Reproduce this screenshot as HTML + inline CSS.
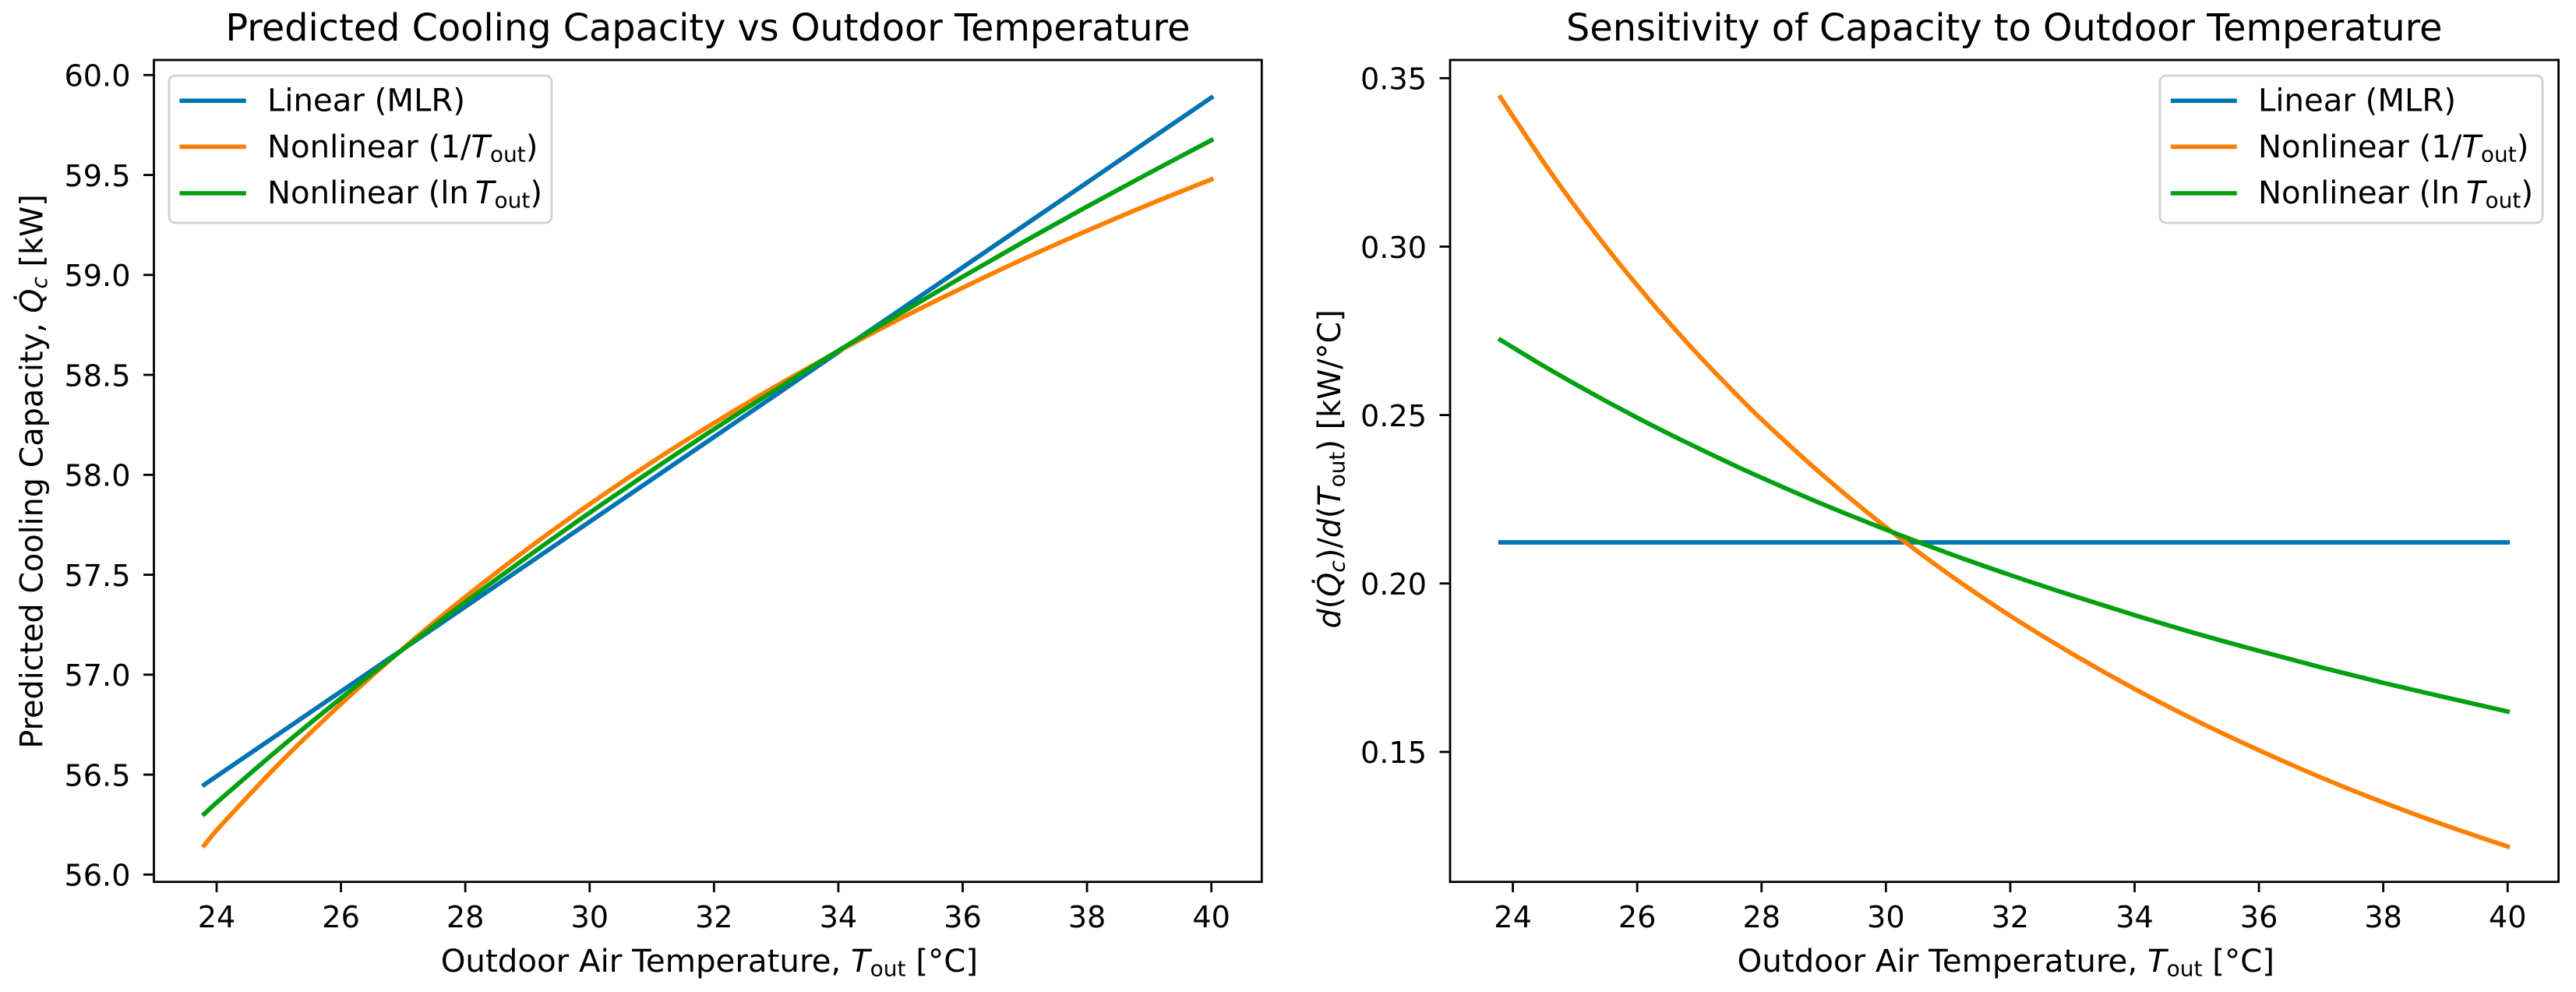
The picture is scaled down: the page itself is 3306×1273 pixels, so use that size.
<!DOCTYPE html>
<html lang="en">
<head>
<meta charset="utf-8">
<title>Predicted Cooling Capacity and Sensitivity</title>
<style>
html,body{margin:0;padding:0;background:#fff;width:3306px;height:1273px;overflow:hidden}
svg{display:block}
text{font-family:"DejaVu Sans","Liberation Sans",sans-serif;fill:#000}
.title{font-size:47.75px;text-anchor:middle}
.axis-label{font-size:40.3px;text-anchor:middle}
.y-label{font-size:39.7px;text-anchor:start}
.tick{font-size:38.2px}
.legend-text{font-size:40.2px}
.i{font-style:italic}
</style>
</head>
<body>
<svg id="chart" xmlns="http://www.w3.org/2000/svg" width="3306" height="1273" viewBox="0 0 3306 1273">
  <rect x="0" y="0" width="3306" height="1273" fill="#fff"/>

  <g id="left-panel">
    <g id="left-marks"></g>
    <g id="left-ticks"></g>
    <rect x="197.5" y="77" width="1421.8" height="1054.7" fill="none" stroke="#000" stroke-width="2.8"/>
    <text class="title" x="908.4" y="52">Predicted Cooling Capacity vs Outdoor Temperature</text>
    <text class="axis-label" x="910.4" y="1247">Outdoor Air Temperature, <tspan class="i">T</tspan><tspan font-size="28" dy="5.7">out</tspan><tspan dy="-5.7"> [°C]</tspan></text>
    <text class="y-label" transform="translate(54.3,960.6) rotate(-90)" x="0" y="0">Predicted Cooling Capacity, <tspan class="i">Q̇</tspan><tspan font-size="28" dy="5.7" class="i">c</tspan><tspan dy="-5.7"> [kW]</tspan></text>
    <g>
      <rect x="217" y="97" width="491" height="189" rx="8" ry="8" fill="#fff" fill-opacity="0.8" stroke="#ccc" stroke-opacity="0.9" stroke-width="2.8"/>
      <line x1="233.2" y1="129.3" x2="313" y2="129.3" stroke="#0173b2" stroke-width="5.6" stroke-linecap="square"/>
      <text class="legend-text" x="343" y="142.5">Linear (MLR)</text>
      <line x1="233.2" y1="188.3" x2="313" y2="188.3" stroke="#ff7f00" stroke-width="5.6" stroke-linecap="square"/>
      <text class="legend-text" x="343" y="201.8">Nonlinear (1/<tspan class="i">T</tspan><tspan font-size="28" dy="5.7">out</tspan><tspan dy="-5.7">)</tspan></text>
      <line x1="233.2" y1="248" x2="313" y2="248" stroke="#02a010" stroke-width="5.6" stroke-linecap="square"/>
      <text class="legend-text" x="343" y="261">Nonlinear (ln&#8201;<tspan class="i">T</tspan><tspan font-size="28" dy="5.7">out</tspan><tspan dy="-5.7">)</tspan></text>
    </g>
  </g>

  <g id="right-panel">
    <g id="right-marks"></g>
    <g id="right-ticks"></g>
    <rect x="1861" y="77" width="1422.6" height="1054.7" fill="none" stroke="#000" stroke-width="2.8"/>
    <text class="title" x="2572.3" y="52">Sensitivity of Capacity to Outdoor Temperature</text>
    <text class="axis-label" x="2574.3" y="1247">Outdoor Air Temperature, <tspan class="i">T</tspan><tspan font-size="28" dy="5.7">out</tspan><tspan dy="-5.7"> [°C]</tspan></text>
    <text class="y-label" transform="translate(1720,806.5) rotate(-90)" x="0" y="0"><tspan class="i">d</tspan>(<tspan class="i">Q̇</tspan><tspan font-size="28" dy="5.7" class="i">c</tspan><tspan dy="-5.7">)/</tspan><tspan class="i">d</tspan>(<tspan class="i">T</tspan><tspan font-size="28" dy="5.7">out</tspan><tspan dy="-5.7">) [kW/°C]</tspan></text>
    <g>
      <rect x="2772" y="97" width="491" height="189" rx="8" ry="8" fill="#fff" fill-opacity="0.8" stroke="#ccc" stroke-opacity="0.9" stroke-width="2.8"/>
      <line x1="2788.7" y1="129.3" x2="2868" y2="129.3" stroke="#0173b2" stroke-width="5.6" stroke-linecap="square"/>
      <text class="legend-text" x="2898" y="142.5">Linear (MLR)</text>
      <line x1="2788.7" y1="188.3" x2="2868" y2="188.3" stroke="#ff7f00" stroke-width="5.6" stroke-linecap="square"/>
      <text class="legend-text" x="2898" y="201.8">Nonlinear (1/<tspan class="i">T</tspan><tspan font-size="28" dy="5.7">out</tspan><tspan dy="-5.7">)</tspan></text>
      <line x1="2788.7" y1="248" x2="2868" y2="248" stroke="#02a010" stroke-width="5.6" stroke-linecap="square"/>
      <text class="legend-text" x="2898" y="261">Nonlinear (ln&#8201;<tspan class="i">T</tspan><tspan font-size="28" dy="5.7">out</tspan><tspan dy="-5.7">)</tspan></text>
    </g>
  </g>
</svg>

<script>
// Values
const capacityTemps = [23.8,24,25,26,27,28,29,30,31,32,33,34,35,36,37,38,39,40];
const capacityLinear = [56.449,56.492,56.704,56.916,57.128,57.340,57.553,57.765,57.977,58.189,58.401,58.614,58.826,59.038,59.250,59.462,59.675,59.887];
const capacityInverse = [56.146,56.222,56.553,56.853,57.131,57.389,57.629,57.853,58.063,58.259,58.444,58.618,58.782,58.936,59.083,59.221,59.353,59.478];
const capacityLog = [56.303,56.360,56.628,56.882,57.127,57.363,57.590,57.810,58.022,58.228,58.427,58.621,58.808,58.991,59.169,59.342,59.510,59.674];

const sensitivityTemps = [23.8,24.5,25,25.5,26,26.5,27,27.5,28,29,30,31,32,33,34,35,36,37,38,39,40];
const sensitivityLinear = [0.2122,0.2122,0.2122,0.2122,0.2122,0.2122,0.2122,0.2122,0.2122,0.2122,0.2122,0.2122,0.2122,0.2122,0.2122,0.2122,0.2122,0.2122,0.2122,0.2122,0.2122];
const sensitivityInverse = [0.3443,0.3249,0.3120,0.2999,0.2885,0.2777,0.2675,0.2579,0.2487,0.2319,0.2167,0.2029,0.1904,0.1791,0.1687,0.1592,0.1505,0.1424,0.1350,0.1282,0.1219];
const sensitivityLog = [0.2723,0.2645,0.2592,0.2541,0.2492,0.2445,0.2400,0.2356,0.2314,0.2234,0.2160,0.2090,0.2025,0.1964,0.1906,0.1851,0.1800,0.1751,0.1705,0.1662,0.1620];

const xTickLabels = ["24","26","28","30","32","34","36","38","40"];
const capacityTickLabels = ["56.0","56.5","57.0","57.5","58.0","58.5","59.0","59.5","60.0"];
const sensitivityTickLabels = ["0.15","0.20","0.25","0.30","0.35"];

const SVG_NS = "http://www.w3.org/2000/svg";
const xLeft = t => 278 + (t - 24) * 79.79;
const xRight = t => 1941.6 + (t - 24) * 79.79;
const yCapacity = v => 96.3 + (60 - v) * 256.5;
const ySensitivity = v => 100.3 + (0.35 - v) * 4323;

function smoothPath(xs, ys, xScale, yScale) {
  const px = xs.map(xScale);
  const py = ys.map(yScale);
  const n = px.length;
  const m = px.map((_, i) => {
    const a = Math.max(0, i - 1);
    const b = Math.min(n - 1, i + 1);
    return (py[b] - py[a]) / (px[b] - px[a]);
  });
  let d = "M" + px[0].toFixed(2) + " " + py[0].toFixed(2);
  for (let i = 0; i < n - 1; i++) {
    const h = (px[i + 1] - px[i]) / 3;
    d += "C" + (px[i] + h).toFixed(2) + " " + (py[i] + m[i] * h).toFixed(2) + " " +
         (px[i + 1] - h).toFixed(2) + " " + (py[i + 1] - m[i + 1] * h).toFixed(2) + " " +
         px[i + 1].toFixed(2) + " " + py[i + 1].toFixed(2);
  }
  return d;
}

function drawLine(parent, xs, ys, xScale, yScale, color, name) {
  const el = document.createElementNS(SVG_NS, "path");
  el.setAttribute("d", smoothPath(xs, ys, xScale, yScale));
  el.setAttribute("fill", "none");
  el.setAttribute("stroke", color);
  el.setAttribute("stroke-width", "5.8");
  el.setAttribute("stroke-linecap", "square");
  el.setAttribute("stroke-linejoin", "round");
  
  
  parent.appendChild(el);
}

function drawXTicks(parent, labels, xScale, prefix) {
  labels.forEach(label => {
    const x = xScale(Number(label));
    const tick = document.createElementNS(SVG_NS, "line");
    tick.setAttribute("x1", x);
    tick.setAttribute("x2", x);
    tick.setAttribute("y1", 1131.7);
    tick.setAttribute("y2", 1145);
    tick.setAttribute("stroke", "#000");
    tick.setAttribute("stroke-width", "2.8");
    
    
    parent.appendChild(tick);
    const text = document.createElementNS(SVG_NS, "text");
    text.setAttribute("class", "tick");
    text.setAttribute("x", x);
    text.setAttribute("y", 1190);
    text.setAttribute("text-anchor", "middle");
    text.textContent = label;
    
    
    parent.appendChild(text);
  });
}

function drawYTicks(parent, labels, yScale, spineX, prefix) {
  labels.forEach(label => {
    const y = yScale(Number(label));
    const tick = document.createElementNS(SVG_NS, "line");
    tick.setAttribute("x1", spineX - 13.5);
    tick.setAttribute("x2", spineX);
    tick.setAttribute("y1", y);
    tick.setAttribute("y2", y);
    tick.setAttribute("stroke", "#000");
    tick.setAttribute("stroke-width", "2.8");
    
    
    parent.appendChild(tick);
    const text = document.createElementNS(SVG_NS, "text");
    text.setAttribute("class", "tick");
    text.setAttribute("x", spineX - 30);
    text.setAttribute("y", y + 14.3);
    text.setAttribute("text-anchor", "end");
    text.textContent = label;
    
    
    parent.appendChild(text);
  });
}

const leftMarks = document.getElementById("left-marks");
const rightMarks = document.getElementById("right-marks");
const leftTicks = document.getElementById("left-ticks");
const rightTicks = document.getElementById("right-ticks");

drawLine(leftMarks, capacityTemps, capacityLinear, xLeft, yCapacity, "#0173b2", "capacity-line-linear");
drawLine(leftMarks, capacityTemps, capacityInverse, xLeft, yCapacity, "#ff7f00", "capacity-line-inverse");
drawLine(leftMarks, capacityTemps, capacityLog, xLeft, yCapacity, "#02a010", "capacity-line-log");

drawLine(rightMarks, sensitivityTemps, sensitivityLinear, xRight, ySensitivity, "#0173b2", "sensitivity-line-linear");
drawLine(rightMarks, sensitivityTemps, sensitivityInverse, xRight, ySensitivity, "#ff7f00", "sensitivity-line-inverse");
drawLine(rightMarks, sensitivityTemps, sensitivityLog, xRight, ySensitivity, "#02a010", "sensitivity-line-log");

drawXTicks(leftTicks, xTickLabels, xLeft, "capacity");
drawXTicks(rightTicks, xTickLabels, xRight, "sensitivity");
drawYTicks(leftTicks, capacityTickLabels, yCapacity, 197.5, "capacity");
drawYTicks(rightTicks, sensitivityTickLabels, ySensitivity, 1861, "sensitivity");
</script>
</body>
</html>
